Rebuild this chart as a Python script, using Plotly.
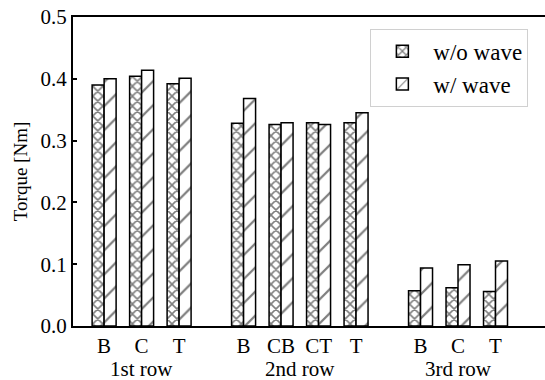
import plotly.graph_objects as go

# Measured torque per sensor position, grouped by blade row
groups = ["1st row", "2nd row", "3rd row"]
positions = [["B", "C", "T"], ["B", "CB", "CT", "T"], ["B", "C", "T"]]
torque_no_wave = [[0.390, 0.404, 0.392], [0.328, 0.326, 0.329, 0.329], [0.057, 0.062, 0.056]]
torque_wave = [[0.400, 0.414, 0.401], [0.368, 0.329, 0.326, 0.345], [0.094, 0.099, 0.105]]
y_ticks = [0.0, 0.1, 0.2, 0.3, 0.4, 0.5]

GROUP_GAP = 0.72  # extra spacing (in category units) between rows

xs, labels, v_no, v_w, centers = [], [], [], [], []
offset = 0.0
for g, names in enumerate(positions):
    start = offset
    for i, name in enumerate(names):
        xs.append(offset + i)
        labels.append(name)
        v_no.append(torque_no_wave[g][i])
        v_w.append(torque_wave[g][i])
    centers.append(start + (len(names) - 1) / 2)
    offset += len(names) + GROUP_GAP

FONT = "Liberation Serif"
FS = 21

fig = go.Figure()
fig.add_bar(
    x=xs, y=v_no, name="w/o wave",
    marker=dict(color="white", line=dict(color="black", width=1.5),
                pattern=dict(shape="x", fgcolor="black", bgcolor="white", size=7, solidity=0.4)),
)
fig.add_bar(
    x=xs, y=v_w, name="w/ wave",
    marker=dict(color="white", line=dict(color="black", width=1.5),
                pattern=dict(shape="/", fgcolor="black", bgcolor="white", size=17, solidity=0.13)),
)

for c, gname in zip(centers, groups):
    fig.add_annotation(x=c, y=0, xref="x", yref="paper", yanchor="middle", yshift=-43,
                       text=gname, showarrow=False,
                       font=dict(size=FS, color="black", family=FONT))

fig.update_layout(
    width=545, height=380,
    margin=dict(l=73, r=0, t=17, b=54),
    paper_bgcolor="white", plot_bgcolor="white",
    barmode="group", bargap=0.36, bargroupgap=0,
    font=dict(family=FONT, size=FS, color="black"),
    legend=dict(x=0.63, y=0.962, xanchor="left", yanchor="top",
                bgcolor="white", bordercolor="#d0d0d0", borderwidth=1,
                font=dict(size=23, family=FONT, color="black"),
                tracegroupgap=0, itemwidth=52),
    xaxis=dict(range=[-0.83, 11.76], tickmode="array", tickvals=xs, ticktext=labels,
               showline=True, linecolor="black", linewidth=2, mirror=True,
               ticks="", showgrid=False, zeroline=False,
               tickfont=dict(size=FS, family=FONT, color="black")),
    yaxis=dict(range=[0, 0.5], tickvals=y_ticks, tickformat=".1f",
               showline=True, linecolor="black", linewidth=2,
               ticks="inside", ticklen=4, tickcolor="black", tickwidth=1.5,
               showgrid=False, zeroline=False,
               tickfont=dict(size=FS, family=FONT, color="black"),
               title=dict(text="Torque [Nm]", font=dict(size=19, family=FONT, color="black"),
                          standoff=8)),
)

fig.write_html("out.html")
